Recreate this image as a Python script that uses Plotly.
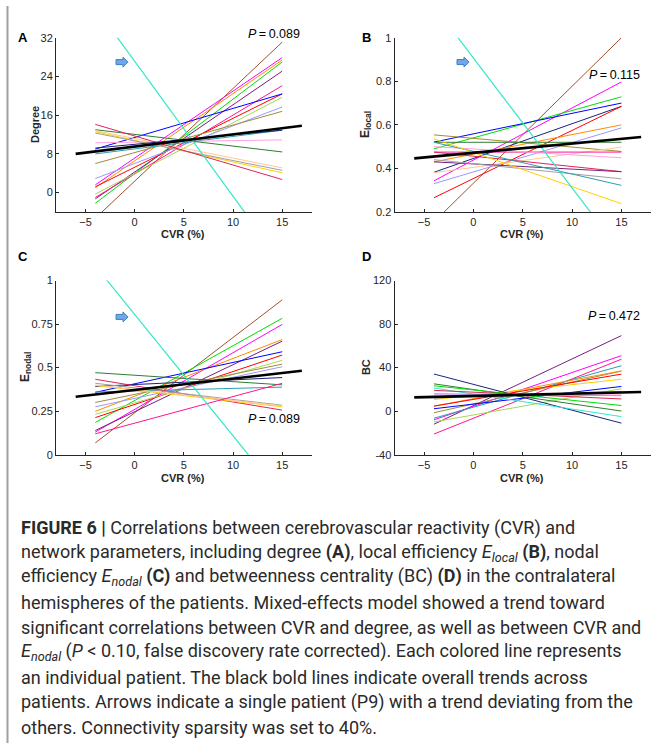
import plotly.graph_objects as go

W, H = 652, 749

# ---------------- data ----------------
PATIENT_X = [-4, 15]     # CVR range of each patient's fitted line
TREND_X = [-6, 17]       # CVR range of overall (black) trend line

# Panel A: Degree (value at CVR=-4, value at CVR=15, colour)
A_start = [-5.3, 1.6, 1.0, -2.2, -1.3, -1.0, 1.2, 9.0, -0.3, 2.9, 6.0, 8.0, 10.3, 13.0, 12.8, 12.6, 12.3, 14.1, 9.2]
A_end   = [31.1, 27.9, 27.4, 27.0, 25.1, 22.1, 20.4, 20.4, 19.7, 17.7, 16.8, 12.9, 10.9, 8.4, 5.1, 4.1, 4.6, 2.7, 12.9]
A_color = ["brown", "magenta", "orange", "green", "purple", "deeppink", "red", "blue", "yellowgreen",
           "lightblue", "olive", "teal", "lightpink", "darkgreen", "peach", "gold", "gray", "crimson", "navy"]
A_p9 = [38.3, -14.7]
A_trend = [8.0, 13.8]

# Panel B: E_local
B_start = [0.154, 0.343, 0.49, 0.521, 0.382, 0.265, 0.43, 0.33, 0.554, 0.52, 0.38, 0.475, 0.50, 0.475, 0.43, 0.44, 0.52, 0.536]
B_end   = [1.0, 0.797, 0.729, 0.70, 0.685, 0.685, 0.60, 0.586, 0.478, 0.52, 0.498, 0.475, 0.449, 0.385, 0.385, 0.352, 0.322, 0.238]
B_color = ["brown", "magenta", "green", "blue", "navy", "red", "orange", "lightblue", "olive", "darkgreen",
           "peach", "deeppink", "lightpink", "crimson", "purple", "gray", "teal", "gold"]
B_p9 = [1.146, 0.012]
B_trend = [0.446, 0.544]

# Panel C: E_nodal
C_start = [0.068, 0.185, 0.13, 0.249, 0.139, 0.358, 0.213, 0.232, 0.30, 0.275, 0.392, 0.471, 0.36, 0.433, 0.41, 0.397, 0.40, 0.12]
C_end   = [0.889, 0.783, 0.748, 0.661, 0.652, 0.591, 0.572, 0.542, 0.520, 0.505, 0.443, 0.401, 0.388, 0.256, 0.284, 0.275, 0.28, 0.41]
C_color = ["brown", "green", "magenta", "orange", "purple", "blue", "red", "yellowgreen", "olive", "lightblue",
           "navy", "darkgreen", "teal", "crimson", "gray", "gold", "peach", "deeppink"]
C_p9 = [1.084, -0.24]
C_trend = [0.333, 0.482]

# Panel D: BC
D_start = [-12, -8, -21, -6.5, -1.4, 4.6, 10.6, 4.6, 2.2, -9.9, 12, 15, 34.1, 21.2, 25.1, 23.3, 19.1, 16]
D_end   = [69.4, 51, 47.7, 41.7, 36.8, 37, 29.3, 34, 22.7, 20.6, 18.2, 15, -11, -5, 0.1, 5.2, 11.2, 14.2]
D_color = ["purple", "magenta", "deeppink", "teal", "olive", "orange", "gold", "red", "blue", "yellowgreen",
           "gray", "lightpink", "navy", "turquoise", "darkgreen", "green", "crimson", "lightblue"]
D_trend = [12.7, 17.6]

A_ticks = [0, 8, 16, 24, 32]
B_ticks = [0.2, 0.4, 0.6, 0.8, 1]
B_ticktext = ["0.2", "0.4", "0.6", "0.8", "1"]
C_ticks = [0, 0.25, 0.5, 0.75, 1]
C_ticktext = ["0", "0.25", "0.5", "0.75", "1"]
D_ticks = [-40, 0, 40, 80, 120]
X_ticks = [-5, 0, 5, 10, 15]

P_texts = ["0.089", "0.115", "0.089", "0.472"]

PALETTE = {
    "brown": "#a0522d", "magenta": "#ff00ff", "orange": "#ff8c00", "green": "#00dd00", "purple": "#7a1f7a",
    "deeppink": "#ff1493", "red": "#ff0000", "blue": "#0000ff", "yellowgreen": "#a6d854", "lightblue": "#9999ff",
    "olive": "#a08c3c", "teal": "#2a9fb0", "lightpink": "#ffa0e0", "darkgreen": "#2e7d32", "peach": "#ffc896",
    "gold": "#ffd000", "gray": "#a0a0a0", "crimson": "#e0245a", "navy": "#1a237e", "turquoise": "#30e8d0",
}
P9_COLOR = "#30e8c8"

FONT = "Liberation Sans, Arial, sans-serif"
AXCOL = "#262626"

# ---------------- geometry (pixels) ----------------
def px(x):
    return x / W

def py(y):
    return 1 - y / H

panels = {
    "A": dict(x0=56, x1=311.7, y0=32.3, y1=209.3, yr=[-4, 32]),
    "B": dict(x0=394.5, x1=651, y0=32.3, y1=209.3, yr=[0.2, 1]),
    "C": dict(x0=56, x1=311.7, y0=279, y1=456, yr=[0, 1]),
    "D": dict(x0=394.5, x1=651, y0=279, y1=456, yr=[-40, 120]),
}

fig = go.Figure()
layout_axes = {}
data_sets = {
    "A": (A_start, A_end, A_color, A_p9, A_trend),
    "B": (B_start, B_end, B_color, B_p9, B_trend),
    "C": (C_start, C_end, C_color, C_p9, C_trend),
    "D": (D_start, D_end, D_color, None, D_trend),
}
yticks = {
    "A": (A_ticks, [str(v) for v in A_ticks]),
    "B": (B_ticks, B_ticktext),
    "C": (C_ticks, C_ticktext),
    "D": (D_ticks, [str(v) for v in D_ticks]),
}

for i, key in enumerate(["A", "B", "C", "D"]):
    n = "" if i == 0 else str(i + 1)
    xa, ya = "x" + n, "y" + n
    p = panels[key]
    st, en, co, p9, tr = data_sets[key]
    for s, e, c in zip(st, en, co):
        fig.add_trace(go.Scatter(x=PATIENT_X, y=[s, e], mode="lines", xaxis=xa, yaxis=ya,
                                 line=dict(color=PALETTE[c], width=1), showlegend=False, hoverinfo="skip"))
    if p9 is not None:
        fig.add_trace(go.Scatter(x=PATIENT_X, y=p9, mode="lines", xaxis=xa, yaxis=ya,
                                 line=dict(color=P9_COLOR, width=1.2), showlegend=False, hoverinfo="skip"))
    fig.add_trace(go.Scatter(x=TREND_X, y=tr, mode="lines", xaxis=xa, yaxis=ya,
                             line=dict(color="black", width=2.6), showlegend=False, hoverinfo="skip"))
    common = dict(showgrid=False, zeroline=False, showline=True, linecolor=AXCOL, linewidth=1,
                  ticks="inside", ticklen=3, tickcolor=AXCOL, tickwidth=1,
                  tickfont=dict(family=FONT, size=11, color=AXCOL), fixedrange=True)
    layout_axes["xaxis" + n] = dict(domain=[px(p["x0"]), px(p["x1"])], range=[-8, 18], anchor=ya,
                                    tickvals=X_ticks, **common)
    tv, tt = yticks[key]
    layout_axes["yaxis" + n] = dict(domain=[py(p["y1"]), py(p["y0"])], range=p["yr"], anchor=xa,
                                    tickvals=tv, ticktext=tt, **common)

fig.update_layout(**layout_axes)

ann = []
def text(x, y, t, size=11, angle=0, xanchor="center", color=AXCOL, family=FONT):
    ann.append(dict(x=px(x), y=py(y), xref="paper", yref="paper", text=t, showarrow=False,
                    xanchor=xanchor, yanchor="middle", textangle=angle,
                    font=dict(family=family, size=size, color=color)))

# panel letters
for lab, (x, y) in {"A": (23, 32), "B": (366, 32), "C": (23, 255), "D": (366, 255)}.items():
    text(x, y, "<b>%s</b>" % lab, size=13, color="black")

# axis titles
text(183, 232, "<b>CVR (%)</b>")
text(522, 232, "<b>CVR (%)</b>")
text(183, 480, "<b>CVR (%)</b>")
text(522, 480, "<b>CVR (%)</b>")
text(35, 121, "<b>Degree</b>", angle=-90)
text(366, 121, "<b>E<sub>local</sub></b>", size=12, angle=-90)
text(26, 367, "<b>E<sub>nodal</sub></b>", size=12, angle=-90)
text(366, 367, "<b>BC</b>", angle=-90)

# P values
for (x, y), t in zip([(274, 28), (614, 70), (274, 420), (614, 315)], P_texts):
    text(x, y, "<i>P</i>\u2009=\u2009" + t, size=12.5, color="black")

# caption
caption = [
    "<b>FIGURE 6 |</b> Correlations between cerebrovascular reactivity (CVR) and",
    "network parameters, including degree <b>(A)</b>, local efficiency <i>E<sub>local</sub></i> <b>(B)</b>, nodal",
    "efficiency <i>E<sub>nodal</sub></i> <b>(C)</b> and betweenness centrality (BC) <b>(D)</b> in the contralateral",
    "hemispheres of the patients. Mixed-effects model showed a trend toward",
    "significant correlations between CVR and degree, as well as between CVR and",
    "<i>E<sub>nodal</sub></i> (<i>P</i> &lt; 0.10, false discovery rate corrected). Each colored line represents",
    "an individual patient. The black bold lines indicate overall trends across",
    "patients. Arrows indicate a single patient (P9) with a trend deviating from the",
    "others. Connectivity sparsity was set to 40%.",
]
for k, line in enumerate(caption):
    text(19, 530 + 25.4 * k, line, size=18, xanchor="left", color="#2a2a2a", family="Roboto, " + FONT)

fig.update_layout(annotations=ann)

# arrows marking patient P9, and the grey side rule
shapes = []
for (x, y) in [(122, 57), (463, 57), (122, 316)]:
    shapes.append(dict(type="path", xref="paper", yref="paper", xsizemode="pixel", ysizemode="pixel",
                       xanchor=px(x), yanchor=py(y),
                       path="M -6,-2.5 L 1,-2.5 L 1,-5 L 6,0 L 1,5 L 1,2.5 L -6,2.5 Z",
                       fillcolor="#6fa8e8", line=dict(color="#3f7fc8", width=1)))
shapes.append(dict(type="line", xref="paper", yref="paper", x0=px(7.5), x1=px(7.5), y0=0, y1=1,
                   line=dict(color="#a0a0a0", width=2)))
fig.update_layout(shapes=shapes)

fig.update_layout(width=W, height=H, autosize=False, margin=dict(l=0, r=0, t=0, b=0),
                  paper_bgcolor="white", plot_bgcolor="white", showlegend=False)

fig.write_html("out.html", config={"displayModeBar": False},
               post_script="document.body.style.margin='0';")
